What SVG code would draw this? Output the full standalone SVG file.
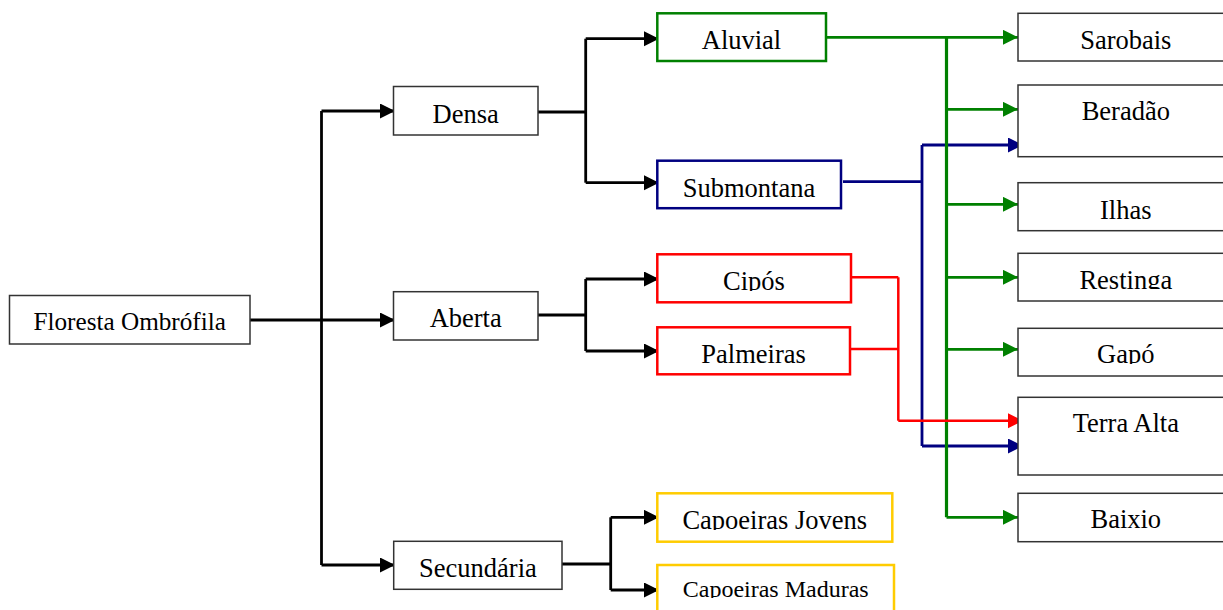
<svg xmlns="http://www.w3.org/2000/svg" width="1223" height="610" viewBox="0 0 1223 610">
  <defs>
    <style>
      .box { fill: #ffffff; stroke: #333333; stroke-width: 1.5; }
      .g { fill: #ffffff; stroke: #008000; stroke-width: 2.5; }
      .n { fill: #ffffff; stroke: #000080; stroke-width: 2.5; }
      .r { fill: #ffffff; stroke: #ff0000; stroke-width: 2.5; }
      .y { fill: #ffffff; stroke: #ffcc00; stroke-width: 2.5; }
      text { font-family: "Liberation Serif", "Times New Roman", serif; font-size: 26.5px; fill: #000000; text-anchor: middle; }
      .lk { fill: none; stroke: #000000; stroke-width: 2.8; }
      .lg { fill: none; stroke: #008000; stroke-width: 2.8; }
      .ln { fill: none; stroke: #000080; stroke-width: 2.8; }
      .lr { fill: none; stroke: #ff0000; stroke-width: 2.5; }
    </style>
    <marker id="ak" markerUnits="userSpaceOnUse" markerWidth="16" markerHeight="16" refX="15" refY="7.5" orient="auto">
      <path d="M0,0 L15,7.5 L0,15 Z" fill="#000000"/>
    </marker>
    <marker id="ag" markerUnits="userSpaceOnUse" markerWidth="16" markerHeight="16" refX="15" refY="7.5" orient="auto">
      <path d="M0,0 L15,7.5 L0,15 Z" fill="#008000"/>
    </marker>
    <marker id="an" markerUnits="userSpaceOnUse" markerWidth="16" markerHeight="16" refX="15" refY="7.5" orient="auto">
      <path d="M0,0 L15,7.5 L0,15 Z" fill="#000080"/>
    </marker>
    <marker id="ar" markerUnits="userSpaceOnUse" markerWidth="16" markerHeight="16" refX="15" refY="7.5" orient="auto">
      <path d="M0,0 L15,7.5 L0,15 Z" fill="#ff0000"/>
    </marker>
    <clipPath id="cCipos"><rect x="657" y="254" width="194" height="37"/></clipPath>
    <clipPath id="cRestinga"><rect x="1018" y="253" width="216" height="36"/></clipPath>
    <clipPath id="cGapo"><rect x="1018" y="328" width="216" height="36"/></clipPath>
    <clipPath id="cJovens"><rect x="657" y="493" width="236" height="37"/></clipPath>
    <clipPath id="cMaduras"><rect x="657" y="565" width="237" height="33"/></clipPath>
  </defs>

  <g id="connectors">
    <!-- black tree -->
    <path class="lk" d="M321.5,111 V565"/>
    <path class="lk" d="M321.5,111 H395" marker-end="url(#ak)"/>
    <path class="lk" d="M250,320 H395" marker-end="url(#ak)"/>
    <path class="lk" d="M321.5,565 H395" marker-end="url(#ak)"/>
    <path class="lk" d="M538,112 H585.7"/>
    <path class="lk" d="M585.7,38.7 V182.7"/>
    <path class="lk" d="M585.7,38.7 H659" marker-end="url(#ak)"/>
    <path class="lk" d="M585.7,182.7 H659" marker-end="url(#ak)"/>
    <path class="lk" d="M538,315 H585.7"/>
    <path class="lk" d="M585.7,279 V351"/>
    <path class="lk" d="M585.7,279 H659" marker-end="url(#ak)"/>
    <path class="lk" d="M585.7,351 H659" marker-end="url(#ak)"/>
    <path class="lk" d="M562,564 H610.7"/>
    <path class="lk" d="M610.7,517.3 V590"/>
    <path class="lk" d="M610.7,517.3 H659" marker-end="url(#ak)"/>
    <path class="lk" d="M610.7,590 H659" marker-end="url(#ak)"/>
    <!-- navy -->
    <path class="ln" d="M843,181.7 H922"/>
    <path class="ln" d="M922,145 V446"/>
    <path class="ln" d="M922,145 H1023" marker-end="url(#an)"/>
    <path class="ln" d="M922,446 H1023" marker-end="url(#an)"/>
    <!-- green -->
    <path class="lg" d="M826,37.3 H1018" marker-end="url(#ag)"/>
    <path class="lg" d="M946.5,37.3 V517.3" style="stroke-width:3.2"/>
    <path class="lg" d="M946.5,109.3 H1018" marker-end="url(#ag)"/>
    <path class="lg" d="M946.5,204.3 H1018" marker-end="url(#ag)"/>
    <path class="lg" d="M946.5,277.3 H1018" marker-end="url(#ag)"/>
    <path class="lg" d="M946.5,349.3 H1018" marker-end="url(#ag)"/>
    <path class="lg" d="M946.5,517.3 H1018" marker-end="url(#ag)"/>
    <!-- red -->
    <path class="lr" d="M849,277.3 H898.3"/>
    <path class="lr" d="M849,349 H898.3"/>
    <path class="lr" d="M898.3,277.3 V420.7"/>
    <path class="lr" d="M898.3,420.7 H1023" marker-end="url(#ar)"/>
  </g>

  <g id="floresta"><rect class="box" x="9.5" y="295.5" width="240.5" height="48.5"/><text x="129.7" y="330" style="font-size:25.2px">Floresta Ombrófila</text></g>
  <g id="densa"><rect class="box" x="393.5" y="86.5" width="144.5" height="48.5"/><text x="465.7" y="122.7">Densa</text></g>
  <g id="aberta"><rect class="box" x="393.5" y="291.7" width="144.5" height="48.3"/><text x="465.7" y="326.7">Aberta</text></g>
  <g id="secundaria"><rect class="box" x="393.7" y="541.3" width="168.3" height="48"/><text x="477.9" y="576.7">Secundária</text></g>

  <g id="aluvial"><rect class="g" x="657.3" y="13.3" width="168.7" height="47.7"/><text x="741.5" y="49.3">Aluvial</text></g>
  <g id="submontana"><rect class="n" x="657.3" y="160.7" width="183.7" height="47.5"/><text x="749" y="196.7">Submontana</text></g>
  <g id="cipos"><rect class="r" x="657.3" y="254.3" width="193.7" height="48"/><text x="754" y="290" clip-path="url(#cCipos)">Cipós</text></g>
  <g id="palmeiras"><rect class="r" x="657.3" y="327.3" width="192.7" height="47"/><text x="753.6" y="362.7">Palmeiras</text></g>
  <g id="capoeiras-jovens"><rect class="y" x="657.3" y="493.3" width="235" height="48.4"/><text x="774.8" y="529.3" clip-path="url(#cJovens)">Capoeiras Jovens</text></g>
  <g id="capoeiras-maduras"><rect class="y" x="657.3" y="565" width="236.7" height="60"/><text x="775.7" y="597.3" style="font-size:24px" clip-path="url(#cMaduras)">Capoeiras Maduras</text></g>

  <g id="sarobais"><rect class="box" x="1018" y="13.3" width="216" height="47.7"/><text x="1125.8" y="49.3">Sarobais</text></g>
  <g id="beradao"><rect class="box" x="1018" y="85" width="216" height="71.7"/><text x="1125.8" y="120">Beradão</text></g>
  <g id="ilhas"><rect class="box" x="1018" y="182.7" width="216" height="48"/><text x="1125.8" y="219">Ilhas</text></g>
  <g id="restinga"><rect class="box" x="1018" y="253.3" width="216" height="47.7"/><text x="1125.8" y="288.5" clip-path="url(#cRestinga)">Restinga</text></g>
  <g id="gapo"><rect class="box" x="1018" y="328.3" width="216" height="47.7"/><text x="1125.8" y="363.3" clip-path="url(#cGapo)">Gapó</text></g>
  <g id="terra-alta"><rect class="box" x="1018" y="397.3" width="216" height="77.7"/><text x="1125.8" y="431.7">Terra Alta</text></g>
  <g id="baixio"><rect class="box" x="1018" y="493.3" width="216" height="48.4"/><text x="1125.8" y="528.3">Baixio</text></g>
</svg>
